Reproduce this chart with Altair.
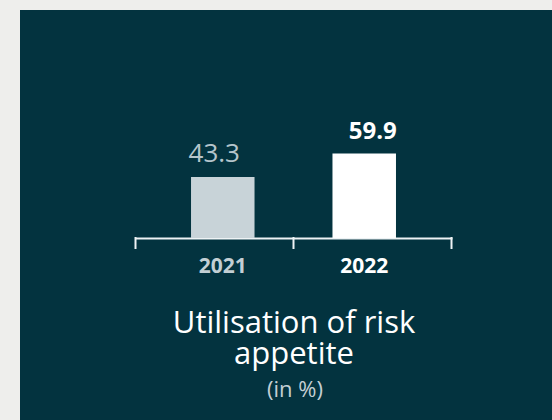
import altair as alt
import pandas as pd

# ---- data ----
years = ["2021", "2022"]
values = [43.3, 59.9]
value_labels = ["43.3", "59.9"]
title_lines = ["Utilisation of risk", "appetite"]
unit_label = ["(in %)"]
tick_fracs = [0, 0.5, 1]

df = pd.DataFrame({"year": years, "value": values, "label": value_labels})
ticks_df = pd.DataFrame({"f": tick_fracs})
unit_df = pd.DataFrame({"t": unit_label})

PANEL = "#03333f"
FONT = "Open Sans"

xscale = alt.Scale(domain=years, range=[115, 432], paddingInner=0.551, paddingOuter=0.396)
yscale = alt.Scale(domain=[0, 100], range=[228, 87])

xaxis = alt.Axis(
    title=title_lines,
    titleFont=FONT, titleFontSize=31, titleFontWeight="normal", titleColor="#ffffff",
    titleLineHeight=31, titleBaseline="top", titleY=70,
    labelFont=FONT, labelFontSize=21, labelFontWeight="bold", labelAngle=0,
    labelColor={"expr": "datum.value == '2022' ? '#ffffff' : '#c3cfd4'"},
    labelPadding=17, ticks=False, grid=False,
    domainColor="#eef3f5", domainWidth=2, offset=-182,
)

base = alt.Chart(df)

bars = base.mark_bar().encode(
    x=alt.X("year:N", scale=xscale, axis=xaxis),
    y=alt.Y("value:Q", scale=yscale, axis=None),
    color=alt.Color("year:N", scale=alt.Scale(domain=years, range=["#c8d3d8", "#ffffff"]), legend=None),
)

t2021 = base.transform_filter(alt.datum.year == "2021").mark_text(
    font=FONT, fontSize=26, fontWeight="normal", color="#b5c5cc",
    baseline="alphabetic", dy=-15,
).encode(
    x=alt.X("year:N", scale=xscale, axis=None),
    y=alt.Y("value:Q", scale=yscale, axis=None),
    text="label:N",
)

t2022 = base.transform_filter(alt.datum.year == "2022").mark_text(
    font=FONT, fontSize=24, fontWeight="bold", color="#ffffff",
    baseline="alphabetic", dy=-15,
).encode(
    x=alt.X("year:N", scale=xscale, axis=None),
    y=alt.Y("value:Q", scale=yscale, axis=None),
    text="label:N",
)

tick_rules = alt.Chart(ticks_df).mark_rule(color="#eef3f5", strokeWidth=2).encode(
    x=alt.X("f:Q", scale=alt.Scale(domain=[0, 1], range=[115.5, 431.5]), axis=None),
    y=alt.value(227),
    y2=alt.value(239),
)

unit = alt.Chart(unit_df).mark_text(
    font=FONT, fontSize=22, color="#c3cfd4", baseline="middle", align="center"
).encode(text="t:N", x=alt.value(275), y=alt.value(380))

chart = alt.layer(bars, t2021, t2022, tick_rules, unit).resolve_scale(
    x="independent"
).properties(
    width=532, height=410,
    padding={"left": 20, "top": 10, "right": 0, "bottom": 0},
    autosize="none",
    background="#eeeeec",
).configure_view(fill=PANEL, strokeWidth=0)

chart.save("out.html", embed_options={"renderer": "svg", "actions": False})
